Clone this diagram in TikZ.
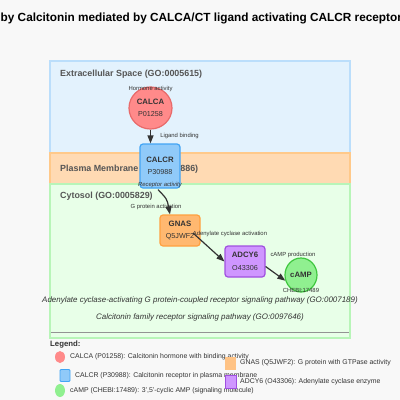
\documentclass[tikz,border=0pt]{standalone}
\usepackage{fontspec}
\setmainfont{Liberation Sans}
\usetikzlibrary{shapes.geometric,arrows.meta,calc}
\definecolor{bgc}{HTML}{F8F8F8}
\definecolor{exfill}{HTML}{E3F2FD}
\definecolor{exdraw}{HTML}{BBDEFB}
\definecolor{pmfill}{HTML}{FFDAB3}
\definecolor{pmdraw}{HTML}{FFC98A}
\definecolor{cyfill}{HTML}{E8FFE8}
\definecolor{cydraw}{HTML}{B8F5B8}
\definecolor{calcafill}{HTML}{FF8A8A}
\definecolor{calcadraw}{HTML}{E86A6A}
\definecolor{calcrfill}{HTML}{90CAF9}
\definecolor{calcrdraw}{HTML}{42A5F5}
\definecolor{gnasfill}{HTML}{FFB870}
\definecolor{gnasdraw}{HTML}{FFA040}
\definecolor{adcyfill}{HTML}{CF96FF}
\definecolor{adcydraw}{HTML}{A050E0}
\definecolor{campfill}{HTML}{90F090}
\definecolor{campdraw}{HTML}{40C840}
\definecolor{txt}{HTML}{333333}
\definecolor{comptxt}{HTML}{555555}
\tikzset{
  comp/.style={line width=1.5pt},
  complbl/.style={anchor=west, text=comptxt, font=\bfseries\fontsize{8.9}{10}\selectfont, inner sep=0pt},
  gene/.style={rectangle, rounded corners=3pt, line width=1.2pt, minimum width=40pt, text=txt, align=center, inner sep=0pt, font=\fontsize{7.2}{12.5}\selectfont},
  circ/.style={ellipse, line width=1.2pt, text=txt, align=center, inner sep=0pt, font=\fontsize{7.2}{12.5}\selectfont},
  small/.style={text=txt, font=\fontsize{5.9}{7}\selectfont, inner sep=0pt},
  conn/.style={draw=txt, line width=1.2pt, -{Triangle[length=8pt,width=6pt]}},
  path/.style={text=txt, font=\itshape\fontsize{7.95}{9}\selectfont, inner sep=0pt},
  leg/.style={anchor=west, text=txt, font=\fontsize{6.9}{8}\selectfont, inner sep=0pt},
}
\begin{document}
\begin{tikzpicture}[x=1pt,y=-1pt]
\fill[bgc] (0,0) rectangle (400,400);
\useasboundingbox (0,0) rectangle (400,400);
% title
\node[anchor=west, inner sep=0pt, font=\bfseries\fontsize{11.8}{13}\selectfont, text=black] (title) at (0.5,18) {by Calcitonin mediated by CALCA/CT ligand activating CALCR receptor};
% compartments
\filldraw[comp, fill=exfill, draw=exdraw] (50,61) rectangle (350,153);
\filldraw[comp, fill=pmfill, draw=pmdraw] (50,153) rectangle (350,184);
\filldraw[comp, fill=cyfill, draw=cydraw] (50,184) rectangle (350,338);
\draw[line width=1pt, draw=gray!85] (50.5,332.5) -- (349,332.5);
\node[complbl] (exl) at (60,74) {Extracellular Space (GO:0005615)};
\node[complbl] (pml) at (60,169) {Plasma Membrane (GO:0005886)};
\node[complbl] (cyl) at (60,196) {Cytosol (GO:0005829)};
% nodes
\node[circ, fill=calcafill, draw=calcadraw, minimum width=43pt, minimum height=42pt] (calca) at (150.5,108) {\bfseries\fontsize{7.8}{12.5}\selectfont CALCA\\P01258};
\node[gene, fill=calcrfill, draw=calcrdraw, minimum height=44pt] (calcr) at (160,166) {\bfseries\fontsize{7.8}{12.5}\selectfont CALCR\\P30988};
\node[gene, fill=gnasfill, draw=gnasdraw, minimum height=31pt] (gnas) at (180,230.5) {\bfseries\fontsize{7.8}{12.5}\selectfont GNAS\\Q5JWF2};
\node[gene, fill=adcyfill, draw=adcydraw, minimum height=31pt] (adcy) at (245,261.5) {\bfseries\fontsize{7.8}{12.5}\selectfont ADCY6\\O43306};
\node[circ, fill=campfill, draw=campdraw, minimum width=32pt, minimum height=34pt] (camp) at (301,275) {\bfseries\fontsize{7.8}{9}\selectfont cAMP};
% node labels
\node[small] (hl) at (150.5,89) {Hormone activity};
\node[small, font=\itshape\fontsize{5.9}{7}\selectfont] (rl) at (160,185) {Receptor activity};
\node[small] (chl) at (301,290.5) {CHEBI:17489};
% connectors
\draw[conn] (calca.south) -- (calca.south |- calcr.north);
\node[small] (lb) at (179.5,136) {Ligand binding};
\draw[conn] ($(calcr.south)+(-2,1)$) .. controls (167,199) .. ($(gnas.north)+(-10,0)$);
\node[small] (gpa) at (156,207) {G protein activation};
\draw[conn] ($(gnas.center)+(13,2.5)$) -- (adcy.west);
\node[small] (aca) at (230,234) {Adenylate cyclase activation};
\draw[conn] ($(adcy.east)+(0,5)$) -- (camp.200);
\node[small] (cp) at (293,255) {cAMP production};
% pathways
\node[path] (p1) at (200,300) {Adenylate cyclase-activating G protein-coupled receptor signaling pathway (GO:0007189)};
\node[path] (p2) at (200,317) {Calcitonin family receptor signaling pathway (GO:0097646)};
% legend
\node[anchor=west, inner sep=0pt, text=txt, font=\bfseries\fontsize{7.8}{9}\selectfont] (legt) at (50,344) {Legend:};
\fill[calcafill] (60,357) ellipse (5pt and 6pt);
\node[leg] (l1) at (70,357) {CALCA (P01258): Calcitonin hormone with binding activity};
\filldraw[fill=calcrfill, draw=calcrdraw, line width=0.8pt, rounded corners=1pt] (60,369.5) rectangle (70,381.5);
\node[leg] (l2) at (75,376) {CALCR (P30988): Calcitonin receptor in plasma membrane};
\fill[campfill] (60,390.5) ellipse (5pt and 6.5pt);
\node[leg] (l3) at (70,391) {cAMP (CHEBI:17489): 3',5'-cyclic AMP (signaling molecule)};
\fill[gnasfill!85] (225,357) rectangle (236,370);
\node[leg] (l4) at (240,363) {GNAS (Q5JWF2): G protein with GTPase activity};
\filldraw[fill=adcyfill, draw=adcydraw, line width=0.6pt] (225,375.5) rectangle (236,388);
\node[leg] (l5) at (240,382) {ADCY6 (O43306): Adenylate cyclase enzyme};
\end{tikzpicture}
\end{document}
